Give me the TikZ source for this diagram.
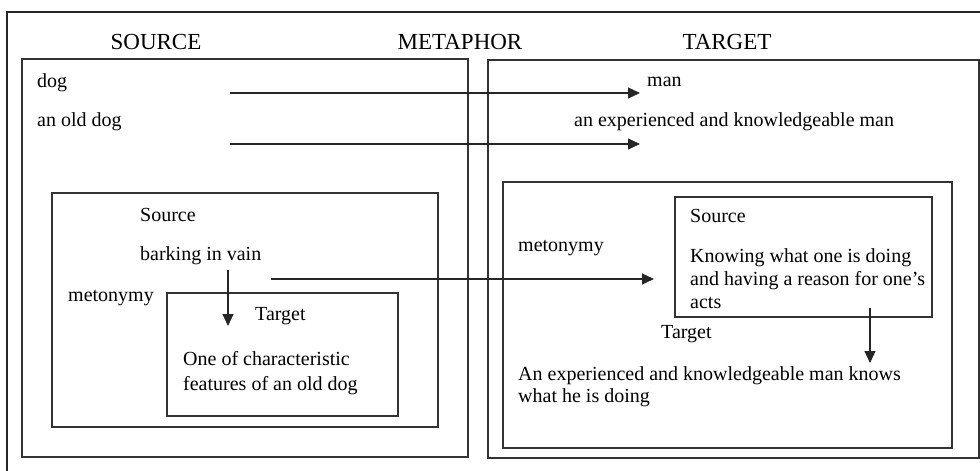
\documentclass[tikz,border=0pt]{standalone}
\usepackage{fontspec}
\setmainfont{Liberation Serif}
\usetikzlibrary{arrows.meta}

\begin{document}
\begin{tikzpicture}[x=1pt,y=-1pt,
		every node/.style={font=\fontsize{20}{23}\selectfont,inner sep=0pt,anchor=west},
		head/.style={font=\fontsize{23}{26}\selectfont,anchor=center},
		multi/.style={align=left,anchor=north west},
		box/.style={draw=black!80,line width=1.4pt},
		arr/.style={-{Triangle[length=12pt,width=11pt]},line width=1.2pt,black!85}]
			\useasboundingbox (0,0) rectangle (980,471);
			% frame and boxes
			\draw[line width=2pt,black!85] (7,471) -- (7,12) -- (980,12);
			\draw[box] (22,59) rectangle (468,457);
			\draw[box] (488,60) rectangle (979,458);
			\draw[box] (52,193) rectangle (438,427);
			\draw[box] (167,293) rectangle (398,416);
			\draw[box] (503,182) rectangle (952,448);
			\draw[box] (675,197) rectangle (932,317);
			% headings
			\node[head] (hsrc) at (156,42) {SOURCE};
			\node[head] (hmet) at (460,42) {METAPHOR};
			\node[head] (htgt) at (727,42) {TARGET};
			% texts
			\node (dog) at (37,83) {dog};
			\node (olddog) at (37,122) {an old dog};
			\node (man) at (647,82) {man};
			\node (expman) at (574,122) {an experienced and knowledgeable man};
			\node (srcL) at (140,215) {Source};
			\node (bark) at (140,256) {barking in vain};
			\node (metL) at (68,298) {metonymy};
			\node (tgtL) at (255,316) {Target};
			\node[multi,font=\fontsize{20}{25}\selectfont] (featL) at (183,351) {One of characteristic\\features of an old dog};
			\node (metR) at (518,248) {metonymy};
			\node (srcR) at (690,216) {Source};
			\node[multi] (knowR) at (690,248) {Knowing what one is doing\\and having a reason for one's\\acts};
			\node (tgtR) at (661,334) {Target};
			\node[multi,font=\fontsize{20}{22}\selectfont] (expR) at (518,366) {An experienced and knowledgeable man knows\\what he is doing};
			% arrows
			\coordinate (dogtail) at (230,93);
			\coordinate (doghead) at (640,93);
			\coordinate (oldtail) at (230,144);
			\coordinate (oldhead) at (640,144);
			\coordinate (barktail) at (271,279);
			\coordinate (barkhead) at (654,279);
			\coordinate (downLtail) at (228,270);
			\coordinate (downLhead) at (228,326);
			\coordinate (downRtail) at (870,308);
			\coordinate (downRhead) at (870,363);
			\draw[arr] (dogtail) -- (doghead);
			\draw[arr] (oldtail) -- (oldhead);
			\draw[arr] (barktail) -- (barkhead);
			\draw[arr] (downLtail) -- (downLhead);
			\draw[arr] (downRtail) -- (downRhead);
		\end{tikzpicture}
\end{document}
